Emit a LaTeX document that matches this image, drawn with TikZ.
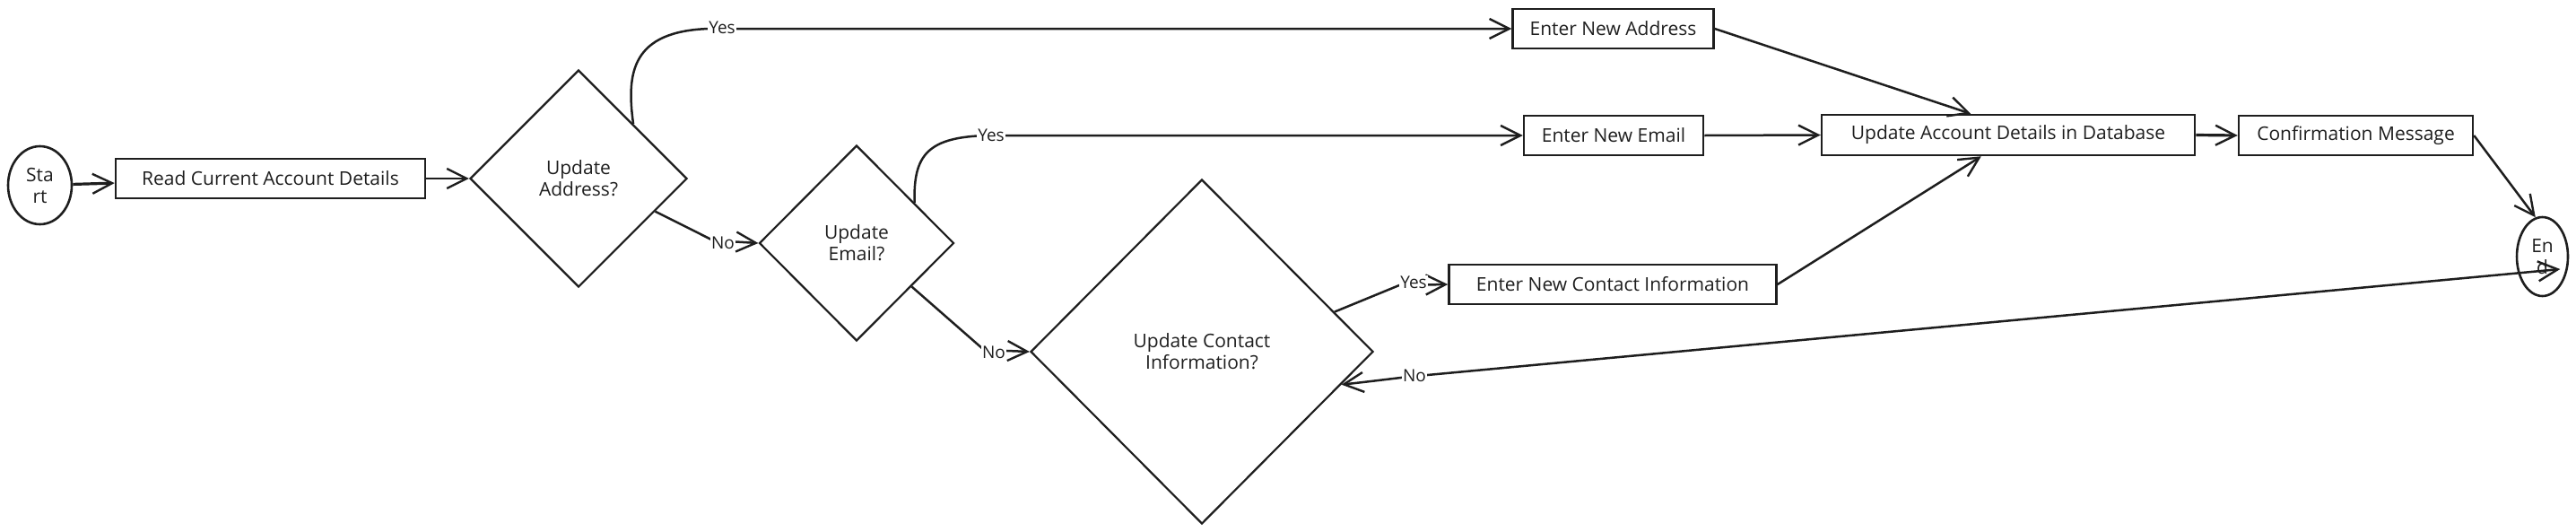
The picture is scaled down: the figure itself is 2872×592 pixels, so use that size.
\documentclass[tikz,border=0pt]{standalone}
\usepackage{fontspec}
\setmainfont{Open Sans}
\usetikzlibrary{shapes.geometric,arrows.meta,calc}
\definecolor{ink}{HTML}{1E1E1E}
\begin{document}
\begin{tikzpicture}[x=1pt,y=-1pt,
  every node/.style={font=\fontsize{21}{24}\selectfont, text=ink},
  box/.style={draw=ink, line width=2.5pt, rectangle, minimum height=44pt, inner sep=0pt},
  dia/.style={draw=ink, line width=2.2pt, diamond, inner sep=0pt, align=center},
  oval/.style={draw=ink, line width=2.6pt, ellipse, inner sep=0pt, align=center},
  arr/.style={draw=ink, line width=2.5pt, -{Straight Barb[length=22pt,width=22pt,line width=2.4pt]}},
  arr2/.style={draw=ink, line width=2.5pt, {Straight Barb[length=22pt,width=22pt,line width=2.4pt]}-{Straight Barb[length=22pt,width=22pt,line width=2.4pt]}},
  lbl/.style={fill=white, inner sep=1pt, font=\fontsize{19}{20}\selectfont}
]
\useasboundingbox (0,0) rectangle (2872,592);

% nodes
\node[oval, minimum width=71pt, minimum height=87pt] (st) at (44.5,206.5) {Sta\\rt};
\node[box, minimum width=345pt] (read) at (301.5,199) {Read Current Account Details};
\node[dia, minimum width=242pt, minimum height=242pt] (d1) at (645,199) {Update\\Address?};
\node[dia, minimum width=217pt, minimum height=218pt] (d2) at (955,271) {Update\\Email?};
\node[dia, minimum width=382pt, minimum height=384pt] (d3) at (1340,392) {Update Contact\\Information?};
\node[box, minimum width=224pt] (ea) at (1798.5,32) {Enter New Address};
\node[box, minimum width=200pt] (ee) at (1799,151) {Enter New Email};
\node[box, minimum width=365pt] (enc) at (1798,317) {Enter New Contact Information};
\node[box, minimum width=416pt, minimum height=45pt] (ua) at (2239,150.5) {Update Account Details in Database};
\node[box, minimum width=261pt] (cm) at (2626.5,151) {Confirmation Message};
\node[oval, minimum width=57pt, minimum height=88pt] (fin) at (2834.5,286) {En\\d};

% attachment points on diamond edges
\coordinate (d1y) at (d1.north east);
\coordinate (d1n) at ($(d1.east)!0.3!(d1.south)$);
\coordinate (d2y) at ($(d2.north)!0.59!(d2.east)$);
\coordinate (d2n) at ($(d2.east)!0.44!(d2.south)$);
\coordinate (d3y) at ($(d3.north)!0.77!(d3.east)$);
\coordinate (d3n) at ($(d3.east)!0.19!(d3.south)$);
\coordinate (uaT) at ($(ua.north west)!0.8!(ua.north)$);
\coordinate (uaB) at ($(ua.south west)!0.856!(ua.south)$);
\coordinate (finIn) at ([shift={(-10,14)}]fin.east);

% connectors
\draw[arr, line width=3.2pt] (st) -- (read);
\draw[arr] (read) -- (d1);
\draw[arr] (d1y) .. controls (698,80) and (705,35) .. (790,32) -- (ea.west);
\draw[arr] (d1n) -- (795,268) -- (d2.west);
\draw[arr] (d2y) .. controls (1018,172) and (1035,153) .. (1100,151) -- (ee.west);
\draw[arr] (d2n) -- (1097,390) -- (d3.west);
\draw[arr] (d3y) -- (1560,318) -- (enc.west);
\draw[arr2] (d3n) .. controls (1520,426) .. (1570,420) -- (finIn);
\draw[arr] (ea.east) -- (uaT);
\draw[arr] (ee.east) -- (ua.west);
\draw[arr] (enc.east) -- (uaB);
\draw[arr, line width=3.2pt] (ua.east) -- (cm.west);
\draw[arr] (cm.east) -- (fin.100);

% edge labels
\node[lbl] (l1) at (805,31) {Yes};
\node[lbl] (l2) at (806,271) {No};
\node[lbl] (l3) at (1105,151) {Yes};
\node[lbl] (l4) at (1108,393) {No};
\node[lbl] (l5) at (1576,315) {Yes};
\node[lbl] (l6) at (1577,419) {No};
\end{tikzpicture}
\end{document}
